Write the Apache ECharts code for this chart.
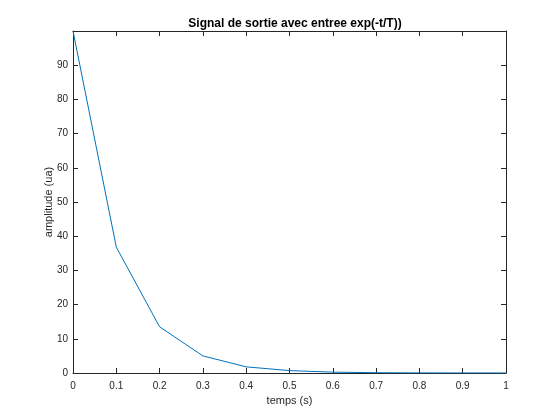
<!DOCTYPE html>
<html>
<head>
<meta charset="utf-8">
<script src="https://cdn.jsdelivr.net/npm/echarts@6/dist/echarts.min.js"></script>
<style>
  html, body { margin: 0; padding: 0; background: #fff; }
  #chart { width: 560px; height: 420px; }
</style>
</head>
<body>
<div id="chart"></div>
<script>
// donnees
var temps = [0, 0.1, 0.2, 0.3, 0.4, 0.5, 0.6, 0.7, 0.8, 0.9, 1];
var amplitude = [100, 36.8, 13.5, 5.0, 1.8, 0.7, 0.25, 0.09, 0.03, 0.01, 0.005];

var titre = 'Signal de sortie avec entree exp(-t/T))';
var font = 'Helvetica, Arial, "Liberation Sans", sans-serif';
var ink = '#262626';

var points = temps.map(function (t, i) { return [t, amplitude[i]]; });

var chart = echarts.init(document.getElementById('chart'));

var axeBase = {
  type: 'value',
  axisLine: { show: true, onZero: false, lineStyle: { color: ink, width: 1 } },
  axisTick: { show: true, inside: true, length: 5, lineStyle: { color: ink } },
  splitLine: { show: false }
};

chart.setOption({
  animation: false,
  backgroundColor: '#fff',
  title: {
    text: titre,
    left: 290, top: 13, textAlign: 'center',
    textStyle: { fontFamily: font, fontSize: 12, fontWeight: 'bold', color: '#000' }
  },
  grid: { left: 73, right: 54, top: 31, bottom: 47 },
  xAxis: [
    Object.assign({}, axeBase, {
      min: 0, max: 1, interval: 0.1, position: 'bottom',
      name: 'temps (s)', nameLocation: 'middle', nameGap: 22,
      nameTextStyle: { fontFamily: font, fontSize: 11, color: ink },
      axisLabel: {
        fontFamily: font, fontSize: 10, color: ink, margin: 8,
        formatter: function (v) { return String(Math.round(v * 10) / 10); }
      }
    }),
    Object.assign({}, axeBase, {
      min: 0, max: 1, interval: 0.1, position: 'top',
      axisLabel: { show: false }
    })
  ],
  yAxis: [
    Object.assign({}, axeBase, {
      min: 0, max: 100, interval: 10, position: 'left',
      name: 'amplitude (ua)', nameLocation: 'middle', nameGap: 19,
      nameMoveOverlap: false,
      nameTextStyle: { fontFamily: font, fontSize: 11, color: ink },
      axisLabel: {
        fontFamily: font, fontSize: 10, color: ink, margin: 5,
        formatter: function (v) { return v >= 100 ? '' : String(v); }
      }
    }),
    Object.assign({}, axeBase, {
      min: 0, max: 100, interval: 10, position: 'right',
      axisLabel: { show: false }
    })
  ],
  series: [{
    type: 'line',
    data: points,
    showSymbol: false,
    lineStyle: { color: '#0072BD', width: 1 },
    xAxisIndex: 0, yAxisIndex: 0
  }]
});
</script>
</body>
</html>
